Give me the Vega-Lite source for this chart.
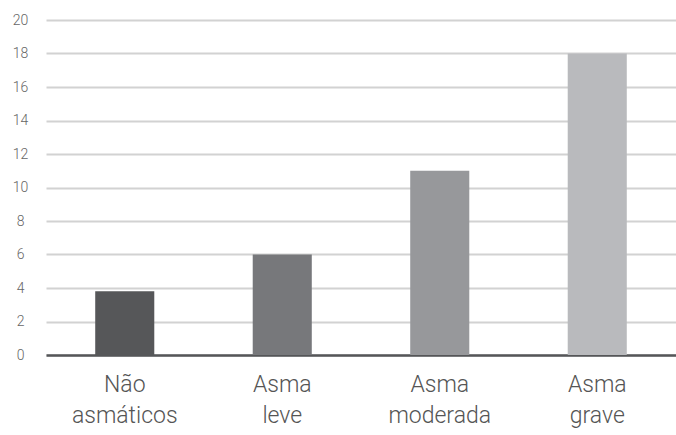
{
  "$schema": "https://vega.github.io/schema/vega-lite/v6.json",
  "autosize": "none",
  "width": 630,
  "height": 335,
  "padding": {"left": 46, "top": 20, "right": 0, "bottom": 80},
  "background": "white",
  "config": {
    "view": {"stroke": null},
    "font": "Roboto"
  },
  "data": {
    "values": [
      {"grupo": "Não asmáticos", "valor": 3.8},
      {"grupo": "Asma leve", "valor": 6},
      {"grupo": "Asma moderada", "valor": 11},
      {"grupo": "Asma grave", "valor": 18}
    ]
  },
  "mark": {"type": "bar"},
  "encoding": {
    "x": {
      "field": "grupo",
      "type": "nominal",
      "sort": null,
      "scale": {"paddingInner": 0.625, "paddingOuter": 0.3125},
      "axis": {
        "title": null,
        "labelAngle": 0,
        "ticks": false,
        "domainColor": "#555658",
        "domainWidth": 2.5,
        "labelFont": "Roboto",
        "labelFontWeight": 300,
        "labelFontSize": 23,
        "labelLineHeight": 31,
        "labelColor": "#555555",
        "labelPadding": 18,
        "labelExpr": "split(datum.label, ' ')"
      }
    },
    "y": {
      "field": "valor",
      "type": "quantitative",
      "scale": {"domain": [0, 20], "nice": false},
      "axis": {
        "title": null,
        "values": [0, 2, 4, 6, 8, 10, 12, 14, 16, 18, 20],
        "domain": false,
        "ticks": false,
        "grid": true,
        "gridColor": "#d2d2d2",
        "gridWidth": 2,
        "labelAlign": "center",
        "labelPadding": 26,
        "labelFont": "Roboto",
        "labelFontWeight": 300,
        "labelFontSize": 14,
        "labelColor": "#666666"
      }
    },
    "color": {
      "field": "grupo",
      "type": "nominal",
      "sort": null,
      "scale": {
        "domain": ["Não asmáticos", "Asma leve", "Asma moderada", "Asma grave"],
        "range": ["#565759", "#77787b", "#97989b", "#b9babd"]
      },
      "legend": null
    }
  }
}
